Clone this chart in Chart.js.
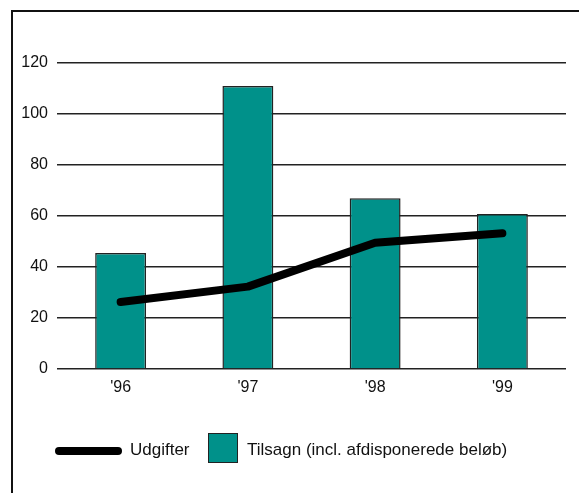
<!DOCTYPE html>
<html>
<head>
<meta charset="utf-8">
<script src="https://cdn.jsdelivr.net/npm/chart.js@4"></script>
<style>
  html, body { margin: 0; padding: 0; background: #fff; }
  #wrap { position: relative; width: 579px; height: 493px; overflow: hidden; }
  #frame { position: absolute; left: 11px; top: 10px; width: 600px; height: 520px;
           border-left: 2px solid #111; border-top: 2px solid #111; }
  canvas { position: absolute; left: 0; top: 0; }
  .leg { position: absolute; font-family: "Liberation Sans", Arial, sans-serif; font-size: 17px; color: #111; }
  #legLine { position: absolute; left: 55px; top: 447px; width: 67px; height: 8px; background: #000; border-radius: 4px; }
  #legBox { position: absolute; left: 208px; top: 433px; width: 28px; height: 28px; background: #00918a; border: 1.5px solid #222; }
</style>
</head>
<body>
<div id="wrap">
  <div id="frame"></div>
  <canvas id="chart" width="579" height="493"></canvas>
  <div id="legLine"></div>
  <div class="leg" style="left:130px; top:440px;">Udgifter</div>
  <div id="legBox"></div>
  <div class="leg" style="left:247px; top:440px;">Tilsagn (incl. afdisponerede beløb)</div>
</div>
<script>
//data
var years = ["'96", "'97", "'98", "'99"]
var tilsagn = [45.5, 111, 67, 60.8]   //bars
var udgifter = [26.3, 32.3, 49.5, 53.2] //line
var teal = '#00918a'

Chart.defaults.font.family = "'Liberation Sans', Arial, sans-serif"
Chart.defaults.font.size = 16
Chart.defaults.color = '#111'

new Chart(document.getElementById('chart'), {
  type: 'bar',
  data: {
    labels: years,
    datasets: [{
      type: 'line',
      label: 'Udgifter',
      data: udgifter,
      borderColor: '#000',
      borderWidth: 8,
      borderCapStyle: 'round',
      borderJoinStyle: 'round',
      pointRadius: 0,
      tension: 0,
      fill: false,
      order: 0
    }, {
      label: 'Tilsagn (incl. afdisponerede beløb)',
      data: tilsagn,
      backgroundColor: teal,
      borderColor: '#222',
      borderWidth: 1.5,
      categoryPercentage: 0.8,
      barPercentage: 0.5,
      order: 1
    }]
  },
  options: {
    responsive: false,
    animation: false,
    events: [],
    layout: { padding: { left: 0, right: 13, top: 63, bottom: 94 } },
    plugins: { legend: { display: false }, tooltip: { enabled: false } },
    scales: {
      x: {
        grid: { display: false },
        border: { display: false },
        ticks: { padding: 1, color: '#111' },
        afterFit: function(s) { s.height = 30 }
      },
      y: {
        min: 0,
        max: 120,
        ticks: { stepSize: 20, padding: 9, color: '#111' },
        grid: { color: '#222', lineWidth: 1.5, drawTicks: false },
        border: { display: false },
        afterFit: function(s) { s.width = 57 }
      }
    }
  }
})
</script>
</body>
</html>
